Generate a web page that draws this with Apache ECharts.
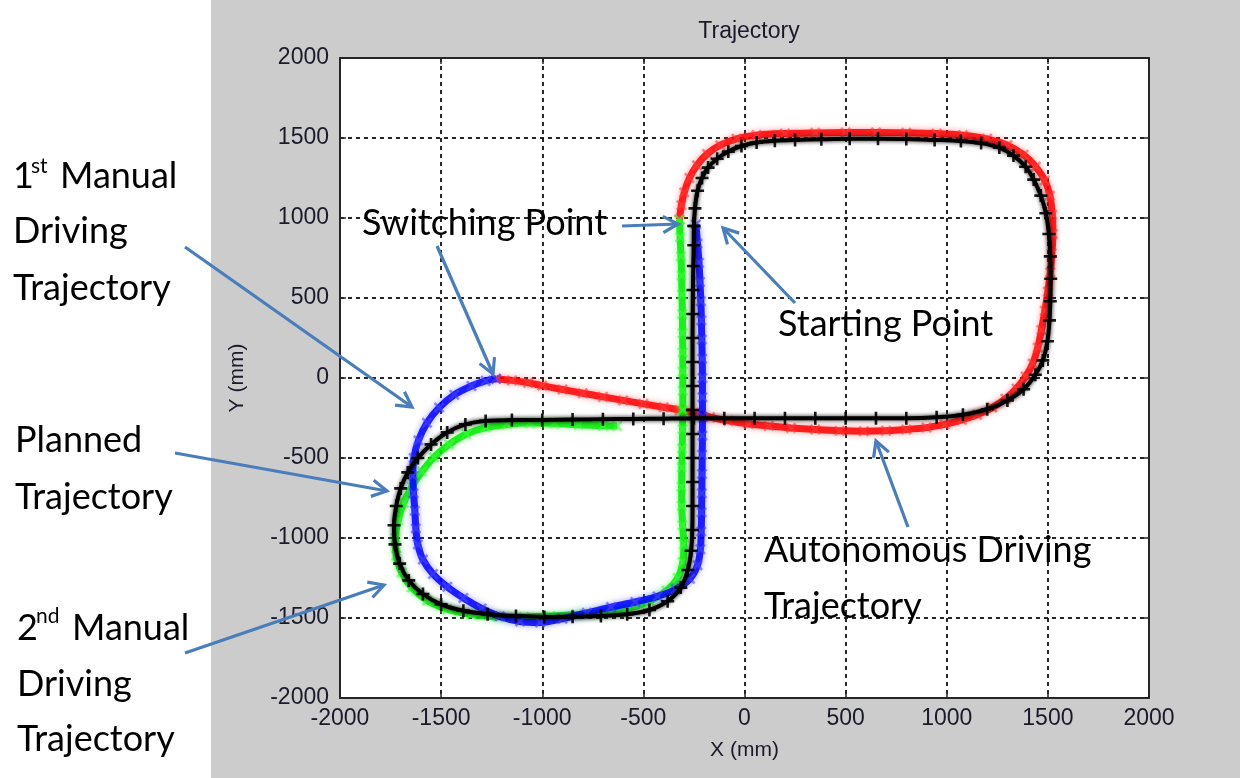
<!DOCTYPE html>
<html><head><meta charset="utf-8">
<script src="https://cdn.jsdelivr.net/npm/echarts@6/dist/echarts.min.js"></script>
<style>html,body{margin:0;padding:0;background:#fff}#c{width:1240px;height:778px}</style>
</head><body><div id="c"></div>
<script>
// ---- data (mm) ----
const titleText = 'Trajectory';
const xAxisName = 'X (mm)';
const yAxisName = 'Y (mm)';
const axisMin = -2000, axisMax = 2000, axisStep = 500;

const plannedTrajectory = [
 [-250,950],[-245,1060],[-232,1170],[-210,1250],[-180,1315],[-135,1370],[-80,1415],[-15,1450],[60,1472],[150,1483],[250,1488],[380,1492],[520,1495],[660,1495],[800,1493],[940,1488],[1070,1482],[1170,1468],[1260,1440],[1330,1390],[1390,1320],[1430,1240],[1465,1140],[1490,1030],[1505,900],[1512,760],[1514,620],[1512,480],[1508,360],[1498,230],[1475,110],[1438,20],[1380,-70],[1300,-140],[1200,-195],[1080,-230],[950,-246],[800,-252],[650,-252],[500,-252],[350,-252],[200,-252],[50,-252],[-100,-252],[-250,-252],[-400,-254],[-550,-256],[-700,-258],[-850,-260],[-1000,-262],[-1150,-263],[-1280,-268],[-1380,-290],[-1470,-340],[-1550,-415],[-1615,-500],[-1665,-590],[-1700,-690],[-1722,-800],[-1733,-920],[-1728,-1040],[-1705,-1160],[-1660,-1265],[-1590,-1350],[-1500,-1415],[-1390,-1455],[-1270,-1476],[-1130,-1488],[-990,-1493],[-850,-1492],[-710,-1487],[-580,-1476],[-470,-1450],[-380,-1395],[-315,-1310],[-280,-1200],[-264,-1080],[-258,-950],[-257,-800],[-257,-650],[-257,-500],[-257,-350],[-257,-200],[-257,-50],[-257,100],[-257,250],[-256,400],[-255,550],[-253,700],[-251,830],[-250,950]
];
const autonomousTrajectory = [
 [-1228,-5],[-1150,-15],[-1070,-30],[-1000,-48],[-900,-72],[-800,-95],[-700,-118],[-600,-140],[-500,-162],[-400,-183],[-320,-200],[-250,-218],[-170,-245],[-80,-268],[20,-287],[120,-300],[230,-312],[350,-322],[470,-330],[590,-333],[700,-330],[800,-322],[900,-310],[990,-290],[1075,-262],[1150,-230],[1225,-185],[1290,-130],[1345,-65],[1390,10],[1425,90],[1450,190],[1468,300],[1485,420],[1500,540],[1512,660],[1520,780],[1525,900],[1522,1020],[1510,1140],[1485,1235],[1440,1320],[1380,1395],[1300,1455],[1200,1495],[1080,1518],[950,1528],[800,1533],[650,1535],[500,1534],[350,1532],[200,1528],[60,1518],[-40,1495],[-120,1455],[-185,1400],[-235,1330],[-272,1250],[-298,1160],[-312,1080],[-322,990]
];
const manual1Trajectory = [
 [-240,960],[-232,840],[-225,720],[-220,600],[-216,480],[-213,360],[-211,240],[-209,120],[-208,0],[-208,-120],[-208,-240],[-208,-360],[-209,-480],[-210,-600],[-211,-720],[-212,-840],[-214,-960],[-218,-1070],[-232,-1170],[-270,-1255],[-340,-1320],[-430,-1365],[-540,-1400],[-660,-1432],[-780,-1468],[-900,-1505],[-1010,-1528],[-1110,-1522],[-1210,-1490],[-1300,-1440],[-1390,-1375],[-1470,-1305],[-1540,-1225],[-1590,-1135],[-1615,-1040],[-1625,-940],[-1630,-830],[-1636,-720],[-1640,-610],[-1635,-500],[-1612,-390],[-1570,-280],[-1510,-185],[-1435,-105],[-1350,-50],[-1280,-18],[-1228,-5]
];
const manual2Trajectory = [
 [-322,990],[-318,880],[-314,760],[-311,640],[-309,520],[-307,400],[-306,280],[-305,160],[-305,40],[-305,-80],[-305,-200],[-306,-320],[-308,-440],[-310,-560],[-311,-680],[-310,-800],[-306,-920],[-300,-1040],[-305,-1150],[-330,-1250],[-385,-1330],[-470,-1395],[-580,-1440],[-700,-1465],[-830,-1478],[-960,-1488],[-1090,-1494],[-1220,-1492],[-1350,-1478],[-1470,-1445],[-1570,-1390],[-1645,-1310],[-1695,-1215],[-1722,-1110],[-1725,-1000],[-1712,-890],[-1685,-780],[-1645,-680],[-1595,-585],[-1535,-495],[-1460,-415],[-1375,-350],[-1280,-310],[-1175,-290],[-1060,-282],[-940,-285],[-820,-292],[-700,-298],[-630,-300]
];

// ---- annotation layout (pixels) ----
const annoFont = 'Lato, "Open Sans", sans-serif';
const annoTexts = [
 {t:'1', x:13, y:176, s:36}, {t:'st', x:31, y:166, s:21}, {t:'Manual', x:60, y:176, s:36},
 {t:'Driving', x:13, y:231, s:36}, {t:'Trajectory', x:13, y:288, s:36},
 {t:'Planned', x:15, y:440, s:36}, {t:'Trajectory', x:15, y:497, s:36},
 {t:'2', x:17, y:628, s:36}, {t:'nd', x:36, y:616, s:21}, {t:'Manual', x:72, y:628, s:36},
 {t:'Driving', x:17, y:684, s:36}, {t:'Trajectory', x:17, y:739, s:36},
 {t:'Switching Point', x:362, y:223, s:36},
 {t:'Starting Point', x:778, y:324, s:36},
 {t:'Autonomous Driving', x:764, y:550, s:36},
 {t:'Trajectory', x:764, y:606, s:36}
];
const arrows = [
 [185,247,412,407],[437,246,493,374],[622,226,678,224],[795,303,723,228],
 [175,453,387,491],[185,653,384,585],[908,527,876,441]
];

const chart = echarts.init(document.getElementById('c'), null, {renderer:'canvas'});
const tickFont = '"Liberation Sans", Arial, sans-serif';
const plusPath = 'path://M4,0H6V4H10V6H6V10H4V6H0V4H4Z';

function axisCommon(pos, main){
  return {
    type:'value', position:pos, min:axisMin, max:axisMax, interval:axisStep,
    axisLine:{show:true, onZero:false, lineStyle:{color:'#262626', width:2}},
    axisTick:{show:true, inside:true, length:6, lineStyle:{color:'#262626', width:1.5}},
    axisLabel:{show:main, fontSize:23, fontFamily:tickFont, color:'#1a1a2a', formatter:(v)=>String(v)},
    splitLine:{show:main, lineStyle:{color:'#111', width:1.8, type:[4,4]}}
  };
}
const xMain = Object.assign(axisCommon('bottom', true), {
  name:xAxisName, nameLocation:'middle', nameGap:42,
  nameTextStyle:{fontSize:21, fontFamily:tickFont, color:'#1a1a2a'}
});
xMain.axisLabel.margin = 9;
const yMain = Object.assign(axisCommon('left', true), {
  name:yAxisName, nameLocation:'middle', nameGap:92, nameRotate:90,
  nameTextStyle:{fontSize:21, fontFamily:tickFont, color:'#1a1a2a'}
});
yMain.axisLabel.margin = 11;

function traj(name, data, lineColor, symColor, lw, symbol, rot, size, z, blur){
  return {
    name, type:'line', data, xAxisIndex:0, yAxisIndex:0, smooth:0.3,
    symbol, symbolSize:size, symbolRotate:rot, showSymbol:true, z,
    lineStyle:{color:lineColor, width:lw, shadowColor:symColor, shadowBlur:blur},
    itemStyle:{color:symColor},
    emphasis:{disabled:true}, animation:false
  };
}

const graphic = [{type:'rect', z:-100, silent:true, shape:{x:211,y:0,width:1029,height:778}, style:{fill:'#cccccc'}}];
annoTexts.forEach(a=>{
  graphic.push({type:'text', x:a.x, y:a.y, z:100, silent:true,
    style:{text:a.t, fill:'#000', font:a.s+'px '+annoFont, verticalAlign:'middle', textVerticalAlign:'middle', align:'left'}});
});
arrows.forEach(([x1,y1,x2,y2])=>{
  const ang = Math.atan2(y2-y1, x2-x1), L = 17, sp = 0.5;
  graphic.push({type:'line', z:100, silent:true, shape:{x1,y1,x2,y2}, style:{stroke:'#4a7ebb', lineWidth:3.2}});
  graphic.push({type:'polyline', z:100, silent:true, shape:{points:[
    [x2-L*Math.cos(ang-sp), y2-L*Math.sin(ang-sp)],[x2,y2],[x2-L*Math.cos(ang+sp), y2-L*Math.sin(ang+sp)]]},
    style:{stroke:'#4a7ebb', lineWidth:3.2, fill:null, lineJoin:'miter'}});
});

chart.setOption({
  animation:false,
  backgroundColor:'#ffffff',
  title:{text:titleText, left:744, top:15, textAlign:'center',
    textStyle:{fontSize:23, fontWeight:'normal', fontFamily:tickFont, color:'#1a1a2a'}},
  grid:{left:340, right:91, top:58, bottom:80, show:true, backgroundColor:'#ffffff', borderWidth:0, containLabel:false},
  xAxis:[xMain, axisCommon('top', false)],
  yAxis:[yMain, axisCommon('right', false)],
  series:[
    traj('Autonomous Driving Trajectory', autonomousTrajectory, 'rgba(255,0,0,0.85)', 'rgba(255,60,60,0.6)', 7, plusPath, 45, 13, 2, 6),
    traj('2nd Manual Driving Trajectory', manual2Trajectory, 'rgba(0,235,0,0.85)', 'rgba(60,255,60,0.6)', 7, plusPath, 45, 13, 3, 6),
    traj('1st Manual Driving Trajectory', manual1Trajectory, 'rgba(0,0,255,0.85)', 'rgba(70,70,255,0.6)', 7, plusPath, 45, 13, 4, 6),
    traj('Planned Trajectory', plannedTrajectory, '#000000', 'rgba(0,0,0,0.9)', 4, plusPath, 0, 13, 5, 4)
  ],
  graphic
});
</script></body></html>
